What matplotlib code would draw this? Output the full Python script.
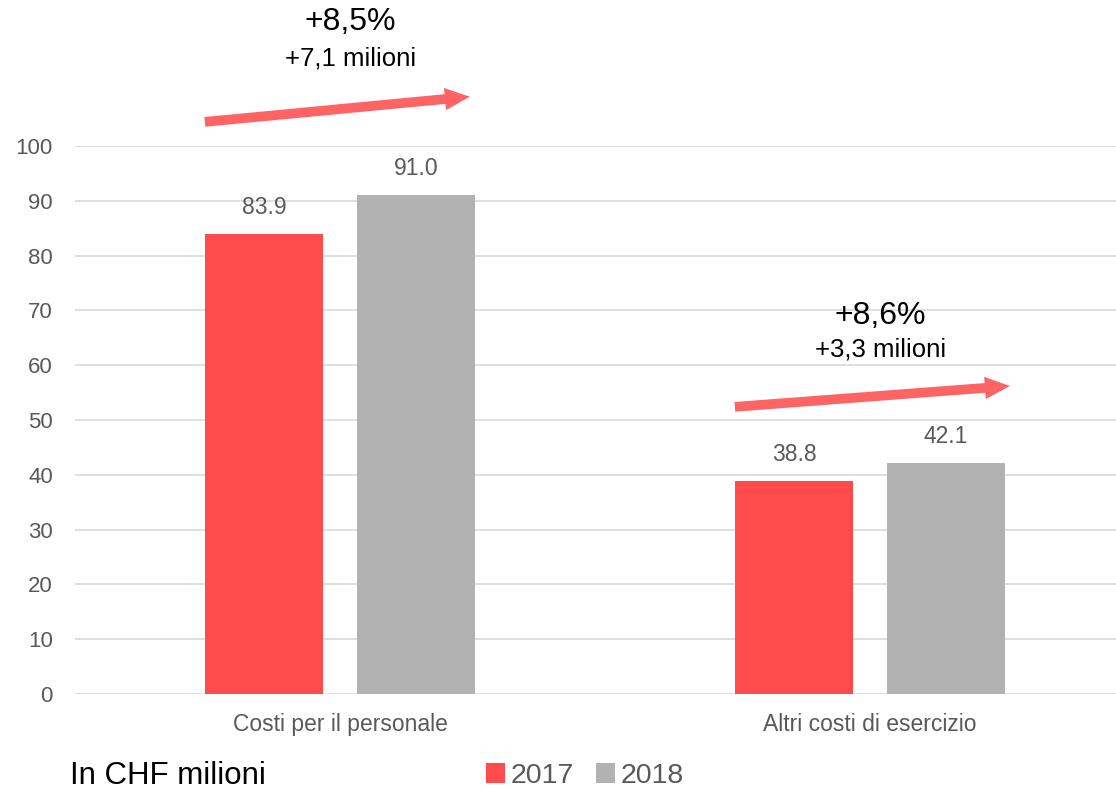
import matplotlib.pyplot as plt
import numpy as np

plt.rcParams['font.family'] = ['Liberation Sans', 'DejaVu Sans']

categories = ['Costi per il personale', 'Altri costi di esercizio']
years = ['2017', '2018']
values_2017 = [83.9, 38.8]
values_2018 = [91.0, 42.1]
pct_labels = ['+8,5%', '+8,6%']
abs_labels = ['+7,1 milioni', '+3,3 milioni']

red = '#FF4B4B'
grey = '#B2B2B2'
arrow_col = '#FF6464'
text_col = '#595959'

W, H = 1116, 789
fig = plt.figure(figsize=(W / 100, H / 100), dpi=100)
# axes: x from 75px, category spacing 530px; y 0 at 694px, 100 at 146px
ax = fig.add_axes([75 / W, (H - 694) / H, 1060 / W, (694 - 146) / H])

x = np.arange(len(categories))
bw = 0.223
off = 0.143
b1 = ax.bar(x - off, values_2017, bw, color=red, label=years[0], zorder=3)
b2 = ax.bar(x + off, values_2018, bw, color=grey, label=years[1], zorder=3)

for bars in (b1, b2):
    for rect in bars:
        h = rect.get_height()
        ax.text(rect.get_x() + rect.get_width() / 2, h + 2.8, '{:.1f}'.format(h),
                ha='center', va='bottom', fontsize=16.5, color=text_col)

ax.set_xlim(-0.5, 1.5)
ax.set_ylim(0, 100)
ax.set_yticks(range(0, 101, 10))
ax.yaxis.grid(True, color='#D9D9D9', linewidth=1.2, zorder=0)
ax.set_axisbelow(True)
for s in ax.spines.values():
    s.set_visible(False)
ax.tick_params(axis='y', length=0, labelsize=16, labelcolor=text_col, pad=16)
ax.tick_params(axis='x', length=0, labelsize=16.5, labelcolor=text_col, pad=14)
ax.set_xticks(x)
ax.set_xticklabels(categories)

# growth arrows and labels
arrows = [((-0.255, 104.4), (0.245, 109.0)), ((0.745, 52.4), (1.264, 56.2))]
pct_pos = [(0.02, 122.6), (1.02, 69.0)]
abs_pos = [(0.02, 116.0), (1.02, 62.8)]
for i in range(len(categories)):
    ax.annotate('', xy=arrows[i][1], xytext=arrows[i][0],
                arrowprops=dict(arrowstyle='simple,head_length=1.8,head_width=1.6,tail_width=0.7',
                                color=arrow_col, lw=0, shrinkA=0, shrinkB=0),
                annotation_clip=False)
    ax.text(*pct_pos[i], pct_labels[i], ha='center', va='center', fontsize=23,
            color='black', clip_on=False)
    ax.text(*abs_pos[i], abs_labels[i], ha='center', va='center', fontsize=18.5,
            color='black', clip_on=False)

fig.text(70 / W, 1 - 776 / H, 'In CHF milioni', fontsize=22.5, color='black',
         ha='left', va='center')
leg = fig.legend(handles=[b1, b2], labels=years, loc='center', bbox_to_anchor=(585 / W, 1 - 776 / H),
                 ncol=2, frameon=False, fontsize=20.5, handlelength=0.65, handleheight=0.65,
                 handletextpad=0.2, columnspacing=0.8, labelcolor=text_col)

plt.savefig('out.png', dpi=100)
